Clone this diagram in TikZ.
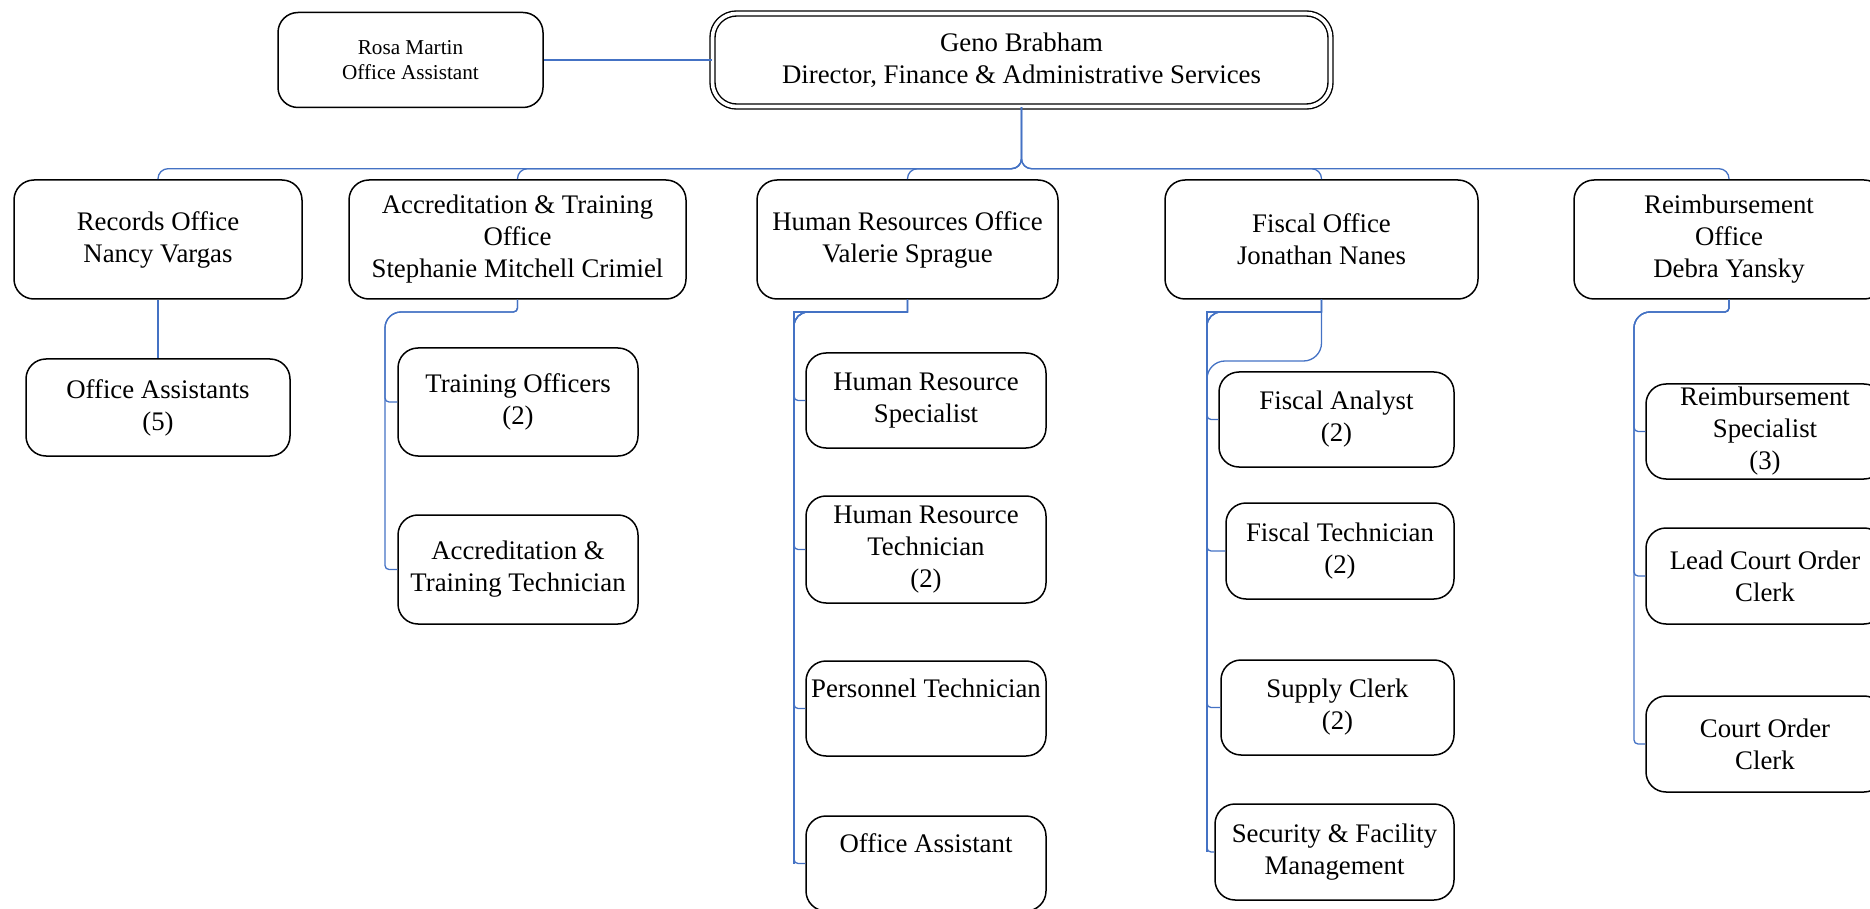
\documentclass[tikz,border=0pt]{standalone}
\usepackage{fontspec}
\setmainfont{Liberation Serif}
\definecolor{linkblue}{HTML}{4472C4}
\tikzset{
  unit/.style={draw, line width=0.75pt, rounded corners=10pt, align=center, inner sep=0pt,
    font=\fontsize{13.4}{16}\selectfont},
  link/.style={draw=linkblue, line width=0.65pt},
}
\begin{document}
\begin{tikzpicture}[x=0.5pt, y=-0.5pt]
    \clip (0,0) rectangle (1870,909);
    % director and assistant
    \node[unit, double, double distance=1.8pt, line width=0.7pt, rounded corners=12pt, minimum width=309pt, minimum height=46.5pt] (dir) at (1021.5,60) {Geno Brabham\\Director, Finance \& Administrative Services};
    \node[unit, font=\fontsize{10.6}{12.5}\selectfont, minimum width=132.5pt, minimum height=47.5pt] (asst) at (410.5,60) {Rosa Martin\\Office Assistant};
    % offices
    \node[unit, minimum width=144pt, minimum height=59.5pt] (rec) at (158,239.5) {Records Office\\Nancy Vargas};
    \node[unit, minimum width=168.5pt, minimum height=59.5pt] (acc) at (517.5,239.5) {Accreditation \& Training\\Office\\Stephanie Mitchell Crimiel};
    \node[unit, minimum width=150.5pt, minimum height=59.5pt] (hr) at (907.5,239.5) {Human Resources Office\\Valerie Sprague};
    \node[unit, minimum width=156.5pt, minimum height=59.5pt] (fis) at (1321.5,239.5) {Fiscal Office\\Jonathan Nanes};
    \node[unit, minimum width=155pt, minimum height=59.5pt] (reim) at (1729,239.5) {Reimbursement\\Office\\Debra Yansky};
    % staff
    \node[unit, minimum width=132pt, minimum height=48.5pt] (oa5) at (158,407.5) {Office Assistants\\(5)};
    \node[unit, minimum width=120pt, minimum height=54pt] (tro) at (518,402) {Training Officers\\(2)};
    \node[unit, minimum width=120pt, minimum height=54.5pt] (att) at (518,569.5) {Accreditation \&\\Training Technician};
    \node[unit, minimum width=120pt, minimum height=47.5pt] (hrs) at (926,400.5) {Human Resource\\Specialist};
    \node[unit, minimum width=120pt, minimum height=53.5pt] (hrt) at (926,549.5) {Human Resource\\Technician\\(2)};
    \node[unit, minimum width=120pt, minimum height=47.5pt] (pers) at (926,708.5) {Personnel Technician\\\strut};
    \node[unit, minimum width=120pt, minimum height=47.5pt] (hroa) at (926,863.5) {Office Assistant\\\strut};
    \node[unit, minimum width=117.5pt, minimum height=47.5pt] (fa) at (1336.5,419.5) {Fiscal Analyst\\(2)};
    \node[unit, minimum width=114pt, minimum height=48pt] (ft) at (1340,551) {Fiscal Technician\\(2)};
    \node[unit, minimum width=116.5pt, minimum height=47.5pt] (sc) at (1337.5,707.5) {Supply Clerk\\(2)};
    \node[unit, minimum width=119.5pt, minimum height=48pt] (sfm) at (1334.5,852) {Security \& Facility\\Management};
    \node[unit, minimum width=119pt, minimum height=47.5pt] (rs) at (1765,431.5) {Reimbursement\\Specialist\\(3)};
    \node[unit, minimum width=119pt, minimum height=48pt] (lco) at (1765,576) {Lead Court Order\\Clerk};
    \node[unit, minimum width=119pt, minimum height=48pt] (co) at (1765,744) {Court Order\\Clerk};
    % bends of the staff lines
    \coordinate (accbus) at (385,312);
    \coordinate (hrbus) at (794,312);
    \coordinate (fisbus) at (1207,312);
    \coordinate (fisbend) at (1207,361);
    \coordinate (reimbus) at (1634,312);
    % connectors
    \draw[link] (asst.east) -- (dir.west);
    \foreach \u in {rec,acc,hr,fis,reim}{
        \draw[link, rounded corners=5pt] (dir.south) -- ++(0,61.5) -| (\u.north);
    }
    \draw[link] (rec.south) -- (oa5.north);
    \foreach \c in {tro,att}{
        \draw[link] (acc.south) [rounded corners=2pt] -- (acc.south |- accbus) [rounded corners=8pt] -- (accbus) [rounded corners=2pt] |- (\c.west);
    }
    \foreach \c in {hrs,hrt,pers,hroa}{
        \draw[link] (hr.south) [sharp corners] -- (hr.south |- hrbus) [rounded corners=7pt] -- (hrbus) [rounded corners=2pt] |- (\c.west);
    }
    \draw[link] (hr.south) |- (hrbus) -- (hrbus |- hroa.west);
    \foreach \c in {ft,sc,sfm}{
        \draw[link] (fis.south) [sharp corners] -- (fis.south |- fisbus) [rounded corners=7pt] -- (fisbus) [rounded corners=2pt] |- (\c.west);
    }
    \draw[link] (fis.south) |- (fisbus) -- (fisbus |- sfm.west);
    \draw[link] (fis.south) [rounded corners=9pt] |- (fisbend) [rounded corners=2pt] |- (fa.west);
    \foreach \c in {rs,lco,co}{
        \draw[link] (reim.south) [rounded corners=2pt] -- (reim.south |- reimbus) [rounded corners=8pt] -- (reimbus) [rounded corners=2pt] |- (\c.west);
    }
\end{tikzpicture}
\end{document}
